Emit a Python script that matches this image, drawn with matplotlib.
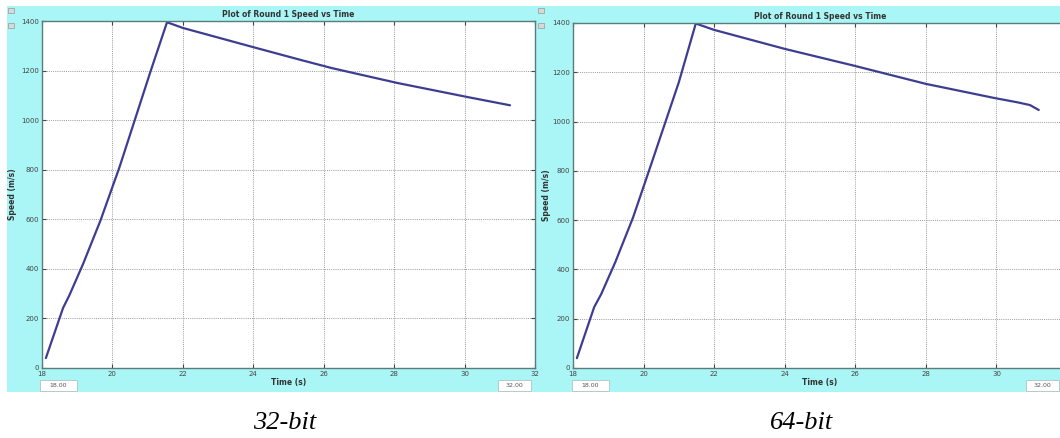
import numpy as np
import matplotlib
matplotlib.use('Agg')
import matplotlib.pyplot as plt
from matplotlib.patches import Rectangle

# speed vs time, read from the two runs
t32 = [18.11, 18.6, 18.77, 19.17, 19.66, 20.2, 21.09, 21.55, 22.0, 24.09, 25.37, 26.23, 28.09, 30.09, 31.29]
v32 = [40, 243, 291, 421, 595, 810, 1200, 1395, 1372, 1291, 1242, 1210, 1150, 1093, 1060]
t64 = [18.11, 18.6, 18.8, 19.2, 19.7, 20.2, 21.0, 21.48, 22.0, 24.0, 25.93, 28.0, 29.93, 30.6, 30.95, 31.2]
v64 = [40, 247, 300, 430, 610, 820, 1160, 1398, 1372, 1295, 1228, 1153, 1096, 1078, 1067, 1047]
xticks = np.arange(18, 33, 2)
yticks = np.arange(0, 1401, 200)
captions = ['32-bit', '64-bit']

W, H = 1060., 438.
cyan = '#aaf5f5'
frame = '#5a7c7c'
linecol = '#3d3d92'

fig = plt.figure(figsize=(W/100, H/100), dpi=100)
fig.patch.set_facecolor('white')

def px(x0, y0, x1, y1):
    # pixel box -> figure fraction [left, bottom, width, height]
    return [x0/W, 1 - y1/H, (x1 - x0)/W, (y1 - y0)/H]

def fig_rect(x0, y0, x1, y1, **kw):
    fig.patches.append(Rectangle((x0/W, 1 - y1/H), (x1 - x0)/W, (y1 - y0)/H,
                                 transform=fig.transFigure, **kw))

# window backgrounds
fig_rect(7, 6, 537, 392, facecolor=cyan, edgecolor='none', zorder=-2)
fig_rect(537, 6, W, 392, facecolor=cyan, edgecolor='none', zorder=-2)

def panel(box, t, v, left_px, right_px, ylab_px, cap_x, cap, hide_last=False):
    ax = fig.add_axes(px(*box), zorder=2)
    ax.set_facecolor('white')
    ax.plot(t, v, color=linecol, lw=1.6, solid_capstyle='round')
    ax.set_xlim(18, 32)
    ax.set_ylim(0, 1400)
    ax.set_xticks(xticks)
    labels = [str(x) for x in xticks]
    if hide_last:
        labels[-1] = ''
    ax.set_xticklabels(labels)
    ax.set_yticks(yticks)
    ax.grid(True, color='#9a9a9a', linestyle=(0, (1, 1.2)), linewidth=0.7)
    ax.tick_params(direction='in', length=3, width=0.8, color='#444444',
                   labelsize=5, labelcolor='#444444', pad=2,
                   top=True, right=True)
    for s in ax.spines.values():
        s.set_color(frame)
        s.set_linewidth(1.0)
    ax.set_title('Plot of Round 1 Speed vs Time', fontsize=5.5, fontweight='bold',
                 color='#333333', pad=3)
    ax.set_xlabel('Time (s)', fontsize=5.5, fontweight='bold', color='#333333', labelpad=1)
    ax.set_ylabel('Speed (m/s)', fontsize=5.5, fontweight='bold', color='#333333')
    ax.yaxis.set_label_coords((ylab_px - box[0]) / (box[2] - box[0]), 0.5)
    # start / end time boxes
    for x0, x1, s in [(left_px, left_px + 37, '18.00'), (right_px - 33, right_px, '32.00')]:
        fig_rect(x0, 380, x1, 391, facecolor='white', edgecolor='#b0c4c4', lw=0.6, zorder=1)
        fig.text((x0 + x1)/2/W, 1 - 385.5/H, s, fontsize=4.5, color='#555555',
                 ha='center', va='center')
    fig.text(cap_x/W, 1 - 423/H, cap, fontsize=19, style='italic',
             family='Liberation Serif', ha='center', va='center')
    return ax

panel((42, 21, 535, 368), t32, v32, 40, 531, 17, 285, captions[0])
panel((573, 23, 1067, 368), t64, v64, 572, 1059, 551, 802, captions[1], hide_last=True)

# small scroll widgets on the window edges
for xw in (8, 538):
    for yw in (8, 23):
        fig_rect(xw, yw, xw + 6, yw + 5, facecolor='#d8d8d8', edgecolor='#888888',
                 lw=0.4, zorder=1)

fig.savefig('out.png', dpi=100)
